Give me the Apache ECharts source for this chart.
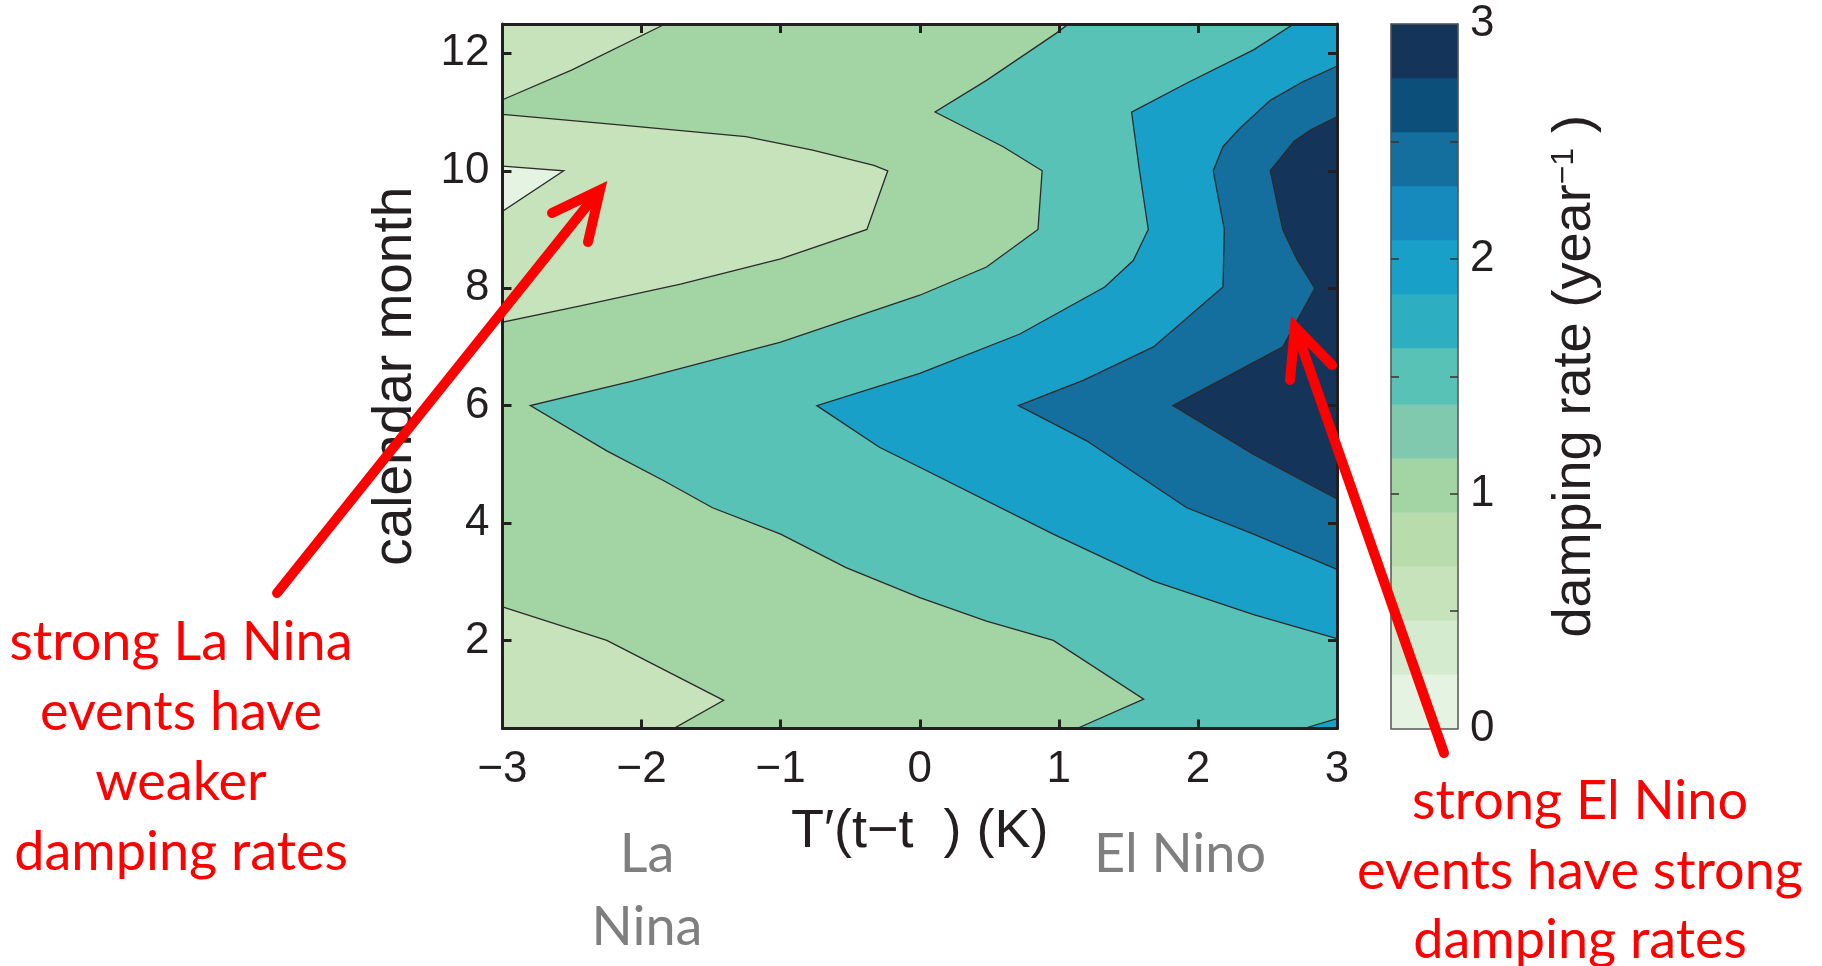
<!DOCTYPE html>
<html><head><meta charset="utf-8">
<script src="https://cdn.jsdelivr.net/npm/echarts@6/dist/echarts.min.js"></script>
<style>html,body{margin:0;padding:0;background:#fff}#c{width:1822px;height:966px}</style>
</head><body><div id="c"></div>
<script>
// ---------------- data ----------------
const xRange = [-3, 3];
const monthRange = [0.5, 12.5];
const xTicks = [-3, -2, -1, 0, 1, 2, 3];
const monthTicks = [2, 4, 6, 8, 10, 12];
const cbTickLabels = [0, 1, 2, 3];
const cbMinorTicks = [0.5, 1, 1.5, 2, 2.5];
// colour-bar bands (damping rate, year^-1)
const bandEdges = [0, 0.23, 0.46, 0.69, 0.92, 1.15, 1.38, 1.62, 1.85, 2.08, 2.31, 2.54, 2.77, 3];
const bandColors = ['#e5f3e2', '#d5ebd0', '#c6e3bc', '#b8dcab', '#a2d4a4', '#80c9ae', '#59c2b7',
                    '#2eafc1', '#18a0c8', '#1689bd', '#146e9e', '#0d4f7b', '#14345a'];

// filled-contour regions, vertices as [T'(K), calendar month]
const regionFrame   = [[-3,0.5],[3,0.5],[3,12.5],[-3,12.5]];
const regionLowTop  = [[-3,11.21],[-2.5,11.72],[-1.83,12.5],[-3,12.5]];
const regionLowMid  = [[-3,10.96],[-2.2,10.79],[-1.25,10.58],[-0.77,10.35],[-0.33,10.09],[-0.23,10.0],
                       [-0.38,9.0],[-1.0,8.5],[-1.72,8.07],[-2.44,7.70],[-3,7.42]];
const regionLowBot  = [[-3,2.57],[-2.25,2.0],[-1.41,0.98],[-1.77,0.5],[-3,0.5]];
const regionMinimum = [[-3,10.08],[-2.56,10.0],[-3,9.31]];
const regionTeal    = [[1.13,0.5],[1.61,1.0],[0.96,2.0],[0.48,2.33],[0.0,2.73],[-0.53,3.24],[-1.0,3.81],
                       [-1.49,4.26],[-1.84,4.72],[-2.25,5.23],[-2.80,6.0],[-2.06,6.42],[-1.0,7.08],
                       [0.0,7.88],[0.48,8.36],[0.85,9.0],[0.88,10.0],[0.6,10.41],[0.11,11.0],[0.48,11.54],
                       [0.98,12.34],[1.07,12.5],[3,12.5],[3,0.5]];
const regionBlue    = [[3,2.03],[2.40,2.44],[1.68,3.01],[0.96,3.81],[0.0,4.95],[-0.29,5.29],[-0.74,6.0],
                       [0.0,6.55],[0.72,7.22],[1.33,8.02],[1.535,8.47],[1.643,9.0],[1.58,10.0],[1.523,11.0],
                       [1.918,11.49],[2.40,12.06],[2.69,12.5],[3,12.5]];
const regionBlueCorner = [[2.76,0.5],[3,0.67],[3,0.5]];
const regionDark    = [[3,3.21],[2.40,3.81],[1.92,4.26],[1.20,5.40],[0.71,6.0],[1.175,6.43],[1.68,7.0],
                       [2.18,8.02],[2.19,9.0],[2.11,10.0],[2.18,10.41],[2.30,10.72],[2.52,11.2],[2.757,11.52],[3,11.78]];
const regionDarkest = [[3,4.41],[2.40,5.17],[1.82,6.0],[2.61,7.0],[2.84,8.0],[2.71,8.5],[2.61,9.0],
                       [2.52,10.0],[2.64,10.35],[2.69,10.5],[2.805,10.69],[3,10.92]];

const regions = [regionFrame, regionLowTop, regionLowMid, regionLowBot, regionMinimum,
                 regionTeal, regionBlue, regionBlueCorner, regionDark, regionDarkest];
const regionBands = [4, 2, 2, 2, 0, 6, 8, 8, 10, 12];

// ---------------- chart ----------------
const ink = '#231f20';
const numFont = 'Liberation Sans';
const fmtNum = v => String(v).replace('-', '\u2212');

const chart = echarts.init(document.getElementById('c'), null, {renderer: 'canvas'});

const mainAxisLine = {show: true, onZero: false, lineStyle: {color: ink, width: 3}};
const mainTick = {show: true, inside: true, length: 9, lineStyle: {color: ink, width: 3}};
const cbLine = {show: true, onZero: false, lineStyle: {color: '#555', width: 1.5}};

const annotationLines = [
  {t: 'strong La Nina', x: 181, b: 660, c: '#ff0000'},
  {t: 'events have', x: 181, b: 730, c: '#ff0000'},
  {t: 'weaker', x: 181, b: 800, c: '#ff0000'},
  {t: 'damping rates', x: 181, b: 870, c: '#ff0000'},
  {t: 'strong El Nino', x: 1580, b: 819, c: '#ff0000'},
  {t: 'events have strong', x: 1580, b: 889, c: '#ff0000'},
  {t: 'damping rates', x: 1580, b: 958, c: '#ff0000'},
  {t: 'La', x: 647, b: 872, c: '#7f7f7f'},
  {t: 'Nina', x: 647, b: 945, c: '#7f7f7f'},
  {t: 'El Nino', x: 1180, b: 872, c: '#7f7f7f'}
];
const annFont = 54;

const graphics = annotationLines.map(a => ({
  type: 'text', z: 100,
  x: a.x, y: a.b - 0.33 * annFont,
  style: {text: a.t, fill: a.c, fontSize: annFont, fontFamily: 'Lato', textAlign: 'center', textVerticalAlign: 'middle', verticalAlign: 'middle'}
}));
const arrowStyle = {stroke: '#ff0000', lineWidth: 10, lineCap: 'round', lineJoin: 'miter', fill: null};
graphics.push(
  {type: 'polyline', z: 100, shape: {points: [[277, 593], [598, 192]]}, style: arrowStyle},
  {type: 'polyline', z: 100, shape: {points: [[552, 213], [600, 190], [588, 242]]}, style: arrowStyle},
  {type: 'polyline', z: 100, shape: {points: [[1444, 753], [1296, 330]]}, style: arrowStyle},
  {type: 'polyline', z: 100, shape: {points: [[1290, 380], [1295, 327], [1332, 365]]}, style: arrowStyle}
);

const option = {
  backgroundColor: '#ffffff',
  animation: false,
  grid: [
    {left: 502.5, top: 24, width: 834.5, height: 704.5},
    {left: 1391, top: 24, width: 67, height: 704.5}
  ],
  xAxis: [
    {gridIndex: 0, type: 'value', min: xRange[0], max: xRange[1], interval: 1, z: 10,
     axisLine: mainAxisLine, axisTick: mainTick, splitLine: {show: false},
     axisLabel: {color: ink, fontSize: 44, fontFamily: numFont, margin: 19, formatter: fmtNum,
                 customValues: xTicks},
     name: 'T\u2032(t\u2212t  ) (K)', nameLocation: 'middle', nameGap: 77,
     nameTextStyle: {color: ink, fontSize: 54, fontFamily: numFont}},
    {gridIndex: 0, type: 'value', position: 'top', min: xRange[0], max: xRange[1], interval: 1, z: 10,
     axisLine: mainAxisLine, axisTick: mainTick, splitLine: {show: false}, axisLabel: {show: false}},
    {gridIndex: 1, type: 'value', min: 0, max: 1, z: 10, axisLine: cbLine, axisTick: {show: false},
     axisLabel: {show: false}, splitLine: {show: false}},
    {gridIndex: 1, type: 'value', position: 'top', min: 0, max: 1, z: 10, axisLine: cbLine,
     axisTick: {show: false}, axisLabel: {show: false}, splitLine: {show: false}}
  ],
  yAxis: [
    {gridIndex: 0, type: 'value', min: monthRange[0], max: monthRange[1], z: 10,
     axisLine: mainAxisLine, axisTick: Object.assign({customValues: monthTicks}, mainTick),
     splitLine: {show: false},
     axisLabel: {color: ink, fontSize: 44, fontFamily: numFont, margin: 13, customValues: monthTicks},
     name: 'calendar month', nameLocation: 'middle', nameGap: 79, nameRotate: 90,
     nameTextStyle: {color: ink, fontSize: 55, fontFamily: numFont}},
    {gridIndex: 0, type: 'value', position: 'right', min: monthRange[0], max: monthRange[1], z: 10,
     axisLine: mainAxisLine, axisTick: Object.assign({customValues: monthTicks}, mainTick),
     splitLine: {show: false}, axisLabel: {show: false}},
    {gridIndex: 1, type: 'value', min: 0, max: 3, z: 10, axisLine: cbLine,
     axisTick: {show: true, inside: true, length: 8, customValues: cbMinorTicks, lineStyle: {color: '#333', width: 1.5}},
     axisLabel: {show: false}, splitLine: {show: false}},
    {gridIndex: 1, type: 'value', position: 'right', min: 0, max: 3, z: 10, axisLine: cbLine,
     axisTick: {show: true, inside: true, length: 8, customValues: cbMinorTicks, lineStyle: {color: '#333', width: 1.5}},
     splitLine: {show: false},
     axisLabel: {color: ink, fontSize: 44, fontFamily: numFont, margin: 12, customValues: cbTickLabels},
     name: '{a|damping rate (year}{b|\u22121}{a| )}', nameLocation: 'middle', nameGap: 90, nameRotate: 90,
     nameTextStyle: {color: ink, fontSize: 54, fontFamily: numFont,
       rich: {a: {fontSize: 54, fontFamily: numFont, color: ink},
              b: {fontSize: 32, fontFamily: numFont, color: ink, verticalAlign: 'top', lineHeight: 40}}}}
  ],
  series: [
    {type: 'custom', xAxisIndex: 0, yAxisIndex: 0, z: 2,
     dimensions: ['x', 'y', 'idx'], encode: {x: 0, y: 1},
     data: regions.map((r, i) => [r[0][0], r[0][1], i]),
     renderItem: function (params, api) {
       const i = api.value(2);
       const pts = regions[i].map(p => api.coord(p));
       return {type: 'polygon', shape: {points: pts},
               style: {fill: bandColors[regionBands[i]], stroke: i === 0 ? null : '#2b2b2b', lineWidth: i === 0 ? 0 : 1.3}};
     }},
    {type: 'custom', xAxisIndex: 2, yAxisIndex: 2, z: 2,
     dimensions: ['x', 'lo', 'hi'], encode: {x: 0, y: [1, 2]},
     data: bandColors.map((c, i) => [0, bandEdges[i], bandEdges[i + 1]]),
     renderItem: function (params, api) {
       const p0 = api.coord([0, api.value(1)]);
       const p1 = api.coord([1, api.value(2)]);
       const col = bandColors[params.dataIndex];
       return {type: 'rect', shape: {x: p0[0], y: p1[1], width: p1[0] - p0[0], height: p0[1] - p1[1]},
               style: {fill: col, stroke: col, lineWidth: 0.5}};
     }}
  ],
  graphic: graphics
};
chart.setOption(option);
</script>
</body></html>
